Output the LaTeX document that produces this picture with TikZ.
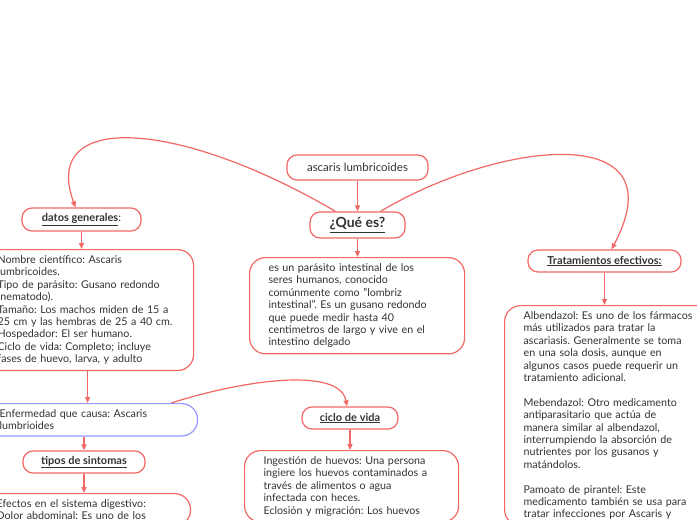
\documentclass[tikz,border=0pt]{standalone}
\usepackage{fontspec}
\setmainfont{Lato}
\usepackage{xcolor}
\usetikzlibrary{arrows.meta}
\frenchspacing
\definecolor{salmon}{RGB}{242,104,102}
\definecolor{lila}{RGB}{150,150,255}
\definecolor{tinta}{RGB}{51,51,51}
\tikzset{
  tema/.style={draw=salmon,line width=1.2pt,rounded corners=10pt,fill=white,
               text=tinta,font=\fontsize{11}{13}\selectfont\bfseries,
               minimum height=22pt,inner sep=2pt},          % etiqueta corta
  raiz/.style={tema,font=\fontsize{11.5}{13}\selectfont,minimum height=25pt},
  nota/.style={draw=salmon,line width=1.2pt,rounded corners=16pt,fill=white,
               text=tinta,align=left,anchor=north west,
               font=\fontsize{10.7}{12.4}\selectfont,
               inner xsep=19pt,inner ysep=6pt},             % texto largo
  ar/.style={-{Triangle[length=6pt,width=5pt]},draw=salmon,line width=1.2pt}
}

\begin{document}
\begin{tikzpicture}[x=1pt,y=-1pt]
  \useasboundingbox (0,0) rectangle (697,520);
  \clip (0,0) rectangle (697,520);
  \fill[white] (0,0) rectangle (697,520);

  % centro
  \node[raiz,minimum width=141pt] (raiz) at (357.5,167.5) {ascaris lumbricoides};
  \node[tema,minimum width=95pt,minimum height=26pt,
        font=\fontsize{14}{16}\selectfont\bfseries] (que) at (357.5,225) {\underline{¿Qué es?}};
  \node[nota,text width=177pt] (def) at (249,257)
    {es un parásito intestinal de los\\seres humanos, conocido\\comúnmente como "lombriz\\
     intestinal". Es un gusano redondo\\que puede medir hasta 40\\centimetros de largo y vive en el\\
     intestino delgado};

  % izquierda
  \node[tema,minimum width=119pt,minimum height=23pt,font=\fontsize{11}{13}\selectfont] (datos) at (81.5,219.5)
    {\textbf{\underline{datos generales}}:};
  \node[nota,text width=177pt] (ficha) at (-22,249)
    {Nombre científico: Ascaris\\lumbricoides.\\Tipo de parásito: Gusano redondo\\(nematodo).\\
     Tamaño: Los machos miden de 15 a\\25 cm y las hembras de 25 a 40 cm.\\Hospedador: El ser humano.\\
     Ciclo de vida: Completo; incluye\\fases de huevo, larva, y adulto};
  \node[nota,draw=lila,text width=179pt] (enf) at (-20,403)
    {Enfermedad que causa: Ascaris\\lumbrioides};
  \node[tema,minimum width=122pt] (tipos) at (84,462) {\underline{tipos de sintomas}};
  \node[nota,text width=175pt] (efectos) at (-23,493)
    {Efectos en el sistema digestivo:\\Dolor abdominal: Es uno de los};

  % ciclo
  \node[tema,minimum width=96pt] (ciclo) at (350,418) {\underline{ciclo de vida}};
  \node[nota,text width=176pt] (fases) at (244,450)
    {Ingestión de huevos: Una persona\\ingiere los huevos contaminados a\\través de alimentos o agua\\
     infectada con heces.\\Eclosión y migración: Los huevos};

  % derecha
  \node[tema,minimum width=153pt] (trat) at (604.5,261) {\underline{Tratamientos efectivos:}};
  \node[nota,text width=177pt] (farmacos) at (504,305)
    {Albendazol: Es uno de los fármacos\\más utilizados para tratar la\\ascariasis. Generalmente se toma\\
     en una sola dosis, aunque en\\algunos casos puede requerir un\\tratamiento adicional.\\[12.4pt]
     Mebendazol: Otro medicamento\\antiparasitario que actúa de\\manera similar al albendazol,\\
     interrumpiendo la absorción de\\nutrientes por los gusanos y\\matándolos.\\[12.4pt]
     Pamoato de pirantel: Este\\medicamento también se usa para\\tratar infecciones por Ascaris y};

  % conectores
  \draw[ar] (raiz) -- (que);
  \draw[ar] (que) -- (def.north -| que);
  \draw[ar] ([xshift=-22pt]que.north) .. controls (180,120) and (40,110) .. ([xshift=-6pt]datos.north);
  \draw[ar] ([xshift=23pt]que.north) .. controls (500,140) and (680,120) .. ([xshift=7pt]trat.north);
  \draw[ar] (datos) -- (ficha.north -| datos);
  \draw[ar] ([xshift=1.5pt]ficha.south) -- ([xshift=1.5pt]ficha.south |- enf.north);
  \draw[ar] (tipos.north |- enf.south) -- (tipos);
  \draw[ar] (tipos) -- (efectos.north -| tipos);
  \draw[ar] ([xshift=-27pt]enf.north east) .. controls (250,378) and (340,368) .. ([xshift=-3pt]ciclo.north);
  \draw[ar] (ciclo) -- (fases.north -| ciclo);
  \draw[ar] (trat) -- (farmacos.north -| trat);
\end{tikzpicture}
\end{document}
